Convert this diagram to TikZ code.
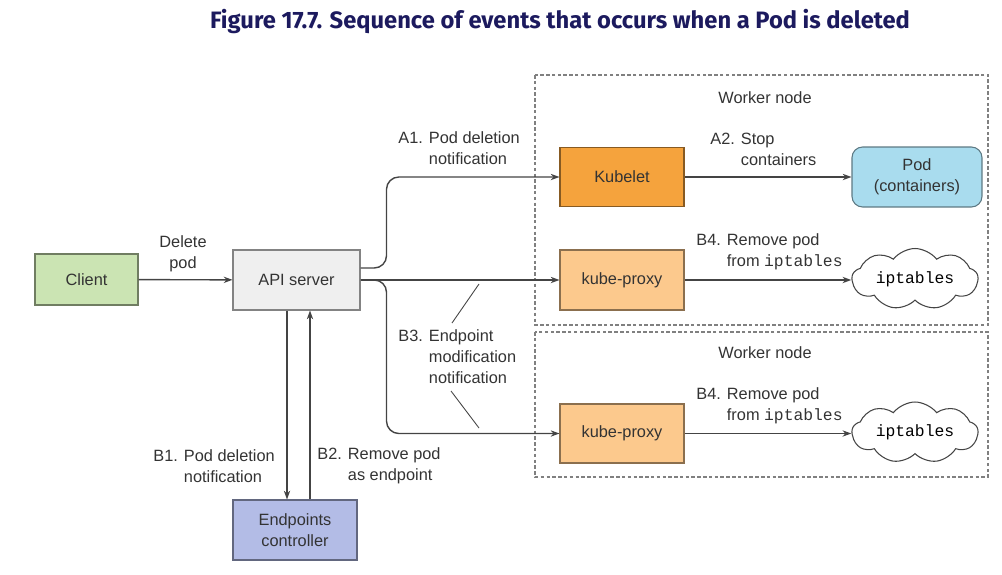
\documentclass[tikz,border=0pt]{standalone}
\usepackage{fontspec}
\setmainfont{Liberation Sans}
\setmonofont{Liberation Mono}
\newfontfamily\titlefont{Fira Sans}
\usetikzlibrary{shapes,shapes.symbols,arrows.meta,positioning,calc}

\definecolor{titleblue}{HTML}{1C1A5E}
\definecolor{txt}{HTML}{333333}
\definecolor{lineclr}{HTML}{444444}
\definecolor{clientfill}{HTML}{CBE4B3}
\definecolor{apifill}{HTML}{EFEFEF}
\definecolor{kubeletfill}{HTML}{F5A33D}
\definecolor{proxyfill}{HTML}{FCC98D}
\definecolor{podfill}{HTML}{A9DCEE}
\definecolor{epfill}{HTML}{B3BCE6}

\begin{document}
\begin{tikzpicture}[x=0.02cm, y=-0.02cm,
    font=\fontsize{9.3}{11.9}\selectfont,
    box/.style={draw=#1!55!black, line width=0.6pt, text=txt, align=center,
                minimum width=2.48cm, minimum height=1.18cm, inner sep=2pt},
    conn/.style={draw=lineclr, line width=0.8pt, rounded corners=7pt,
                 -{Stealth[length=5pt,width=3.6pt]}},
    lbl/.style={text=txt, align=left, inner sep=0pt, anchor=west},
    iptcloud/.style={cloud, cloud puffs=9, cloud puff arc=105, cloud ignores aspect,
                     draw=lineclr, line width=0.6pt, fill=white,
                     minimum width=2.52cm, minimum height=1.22cm, inner sep=0pt},
    worker/.style={draw=gray, line width=0.6pt, dash pattern=on 2pt off 1.3pt}]
    \useasboundingbox (0,0) rectangle (1002,575);

    % title
    \node[text=titleblue, inner sep=0pt] (title) at (560,22)
        {\resizebox{14cm}{\height}{\titlefont\fontsize{13.5}{16}\selectfont\bfseries
         Figure 17.7. Sequence of events that occurs when a Pod is deleted}};

    % worker nodes
    \draw[worker] (535,75) rectangle (988,325);
    \draw[worker] (535,332) rectangle (988,477);
    \node[text=txt] (wtop) at (765,98) {Worker node};
    \node[text=txt] (wbot) at (765,353) {Worker node};

    % boxes
    \node[box=clientfill, fill=clientfill, minimum width=2.06cm, minimum height=1.02cm] (client) at (86.5,279.5) {Client};
    \node[box=apifill, fill=apifill, minimum width=2.54cm, minimum height=1.2cm] (api) at (296.5,280) {API server};
    \node[box=kubeletfill, fill=kubeletfill] (kubelet) at (622,177) {Kubelet};
    \node[box=podfill, fill=podfill, rounded corners=6pt, minimum width=2.6cm, minimum height=1.2cm] (pod) at (917,177) {Pod\\(containers)};
    \node[box=proxyfill, fill=proxyfill, minimum height=1.2cm] (proxyA) at (622,280) {kube-proxy};
    \node[box=proxyfill, fill=proxyfill] (proxyB) at (622,433.5) {kube-proxy};
    \node[box=epfill, fill=epfill, minimum height=1.2cm] (endpoints) at (295,530) {Endpoints\\controller};
    \node[iptcloud] (cloudA) at (915,279) {\texttt{iptables}};
    \node[iptcloud] (cloudB) at (915,432.5) {\texttt{iptables}};

    % connectors
    \draw[conn] (client) -- (api);
    \draw[conn] ($(api.east)+(0,-12)$) -- ++(26,0) |- (kubelet.west);
    \draw[conn] (api.east) -- (proxyA.west);
    \draw[conn] (api.east) -- ++(26,0) |- (proxyB.west);
    \draw[conn] (kubelet) -- (pod);
    \draw[conn] (proxyA.east) -- (proxyA.east -| cloudA.west);
    \draw[conn] (proxyB.east) -- (proxyB.east -| cloudB.west);
    \coordinate (downtop) at ($(api.south)+(-9.5,0)$);
    \coordinate (uptop) at ($(api.south)+(13.5,0)$);
    \draw[conn] (downtop) -- (downtop |- endpoints.north);
    \draw[conn] (uptop |- endpoints.north) -- (uptop);

    % labels
    \node[text=txt, align=center] (deletelbl) at (183,253.5) {Delete\\pod};
    \node[lbl] (a1) at (398,148) {A1. Pod deletion\\\phantom{A1. }notification};
    \node[lbl] (a2) at (710,149) {A2. Stop\\\phantom{A2. }containers};
    \node[lbl] (b4a) at (696,252) {B4. Remove pod\\\phantom{B4. }from \texttt{iptables}};
    \node[lbl] (b4b) at (696,406) {B4. Remove pod\\\phantom{B4. }from \texttt{iptables}};
    \node[lbl] (b3) at (398,357) {B3. Endpoint\\\phantom{B3. }modification\\\phantom{B3. }notification};
    \node[lbl] (b1) at (153,466) {B1. Pod deletion\\\phantom{B1. }notification};
    \node[lbl] (b2) at (317,466) {B2. Remove pod\\\phantom{B2. }as endpoint};

    % pointer strokes for B3
    \draw[lineclr, line width=0.5pt] (479,284) -- (452,323);
    \draw[lineclr, line width=0.5pt] (451,391) -- (479,428);
\end{tikzpicture}
\end{document}
